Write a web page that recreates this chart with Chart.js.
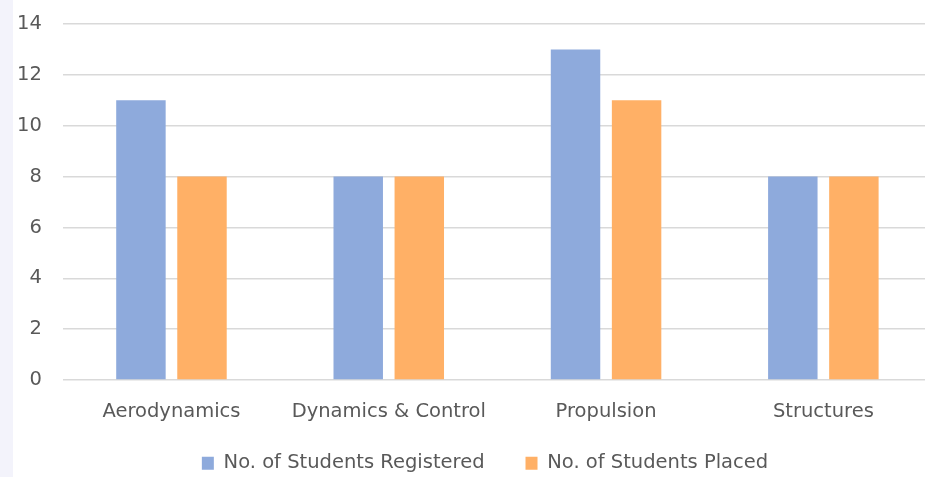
<!DOCTYPE html>
<html>
<head>
<meta charset="utf-8">
<script src="https://cdn.jsdelivr.net/npm/chart.js@4/dist/chart.umd.min.js"></script>
<style>
  html, body { margin: 0; padding: 0; background: #ffffff; overflow: hidden; }
  #frame { position: relative; width: 925px; height: 477px; overflow: hidden; }
  #strip { position: absolute; left: 0; top: 0; width: 13px; height: 477px; background: #f3f3fb; z-index: 0; }
  #wrap { position: absolute; left: 0; top: 0; width: 932px; height: 477px; z-index: 1; }
</style>
</head>
<body>
<div id="frame">
  <div id="strip"></div>
  <div id="wrap"><canvas id="chart"></canvas></div>
</div>
<script>
const categories = ["Aerodynamics", "Dynamics & Control", "Propulsion", "Structures"];
const registered = [11, 8, 13, 8];
const placed = [8, 8, 11, 8];
const seriesNames = ["No. of Students Registered", "No. of Students Placed"];
const yTicks = [0, 2, 4, 6, 8, 10, 12, 14];

const FONT = "'DejaVu Sans', sans-serif";
const TEXT_SIZE = 19.5;
Chart.defaults.font.family = FONT;
Chart.defaults.color = "#595959";

// trailing spaces widen the legend entries so they sit apart like spaced items
const legendGap = ["     ", "    "];

new Chart(document.getElementById("chart"), {
  type: "bar",
  data: {
    labels: categories,
    datasets: [
      { label: seriesNames[0], data: registered, backgroundColor: "#8eaadc", borderWidth: 0 },
      { label: seriesNames[1], data: placed, backgroundColor: "#ffb066", borderWidth: 0 }
    ]
  },
  options: {
    responsive: true,
    maintainAspectRatio: false,
    animation: false,
    datasets: { bar: { categoryPercentage: 0.562, barPercentage: 0.81 } },
    layout: { padding: { left: 17, right: 0, top: 24, bottom: -6 } },
    plugins: {
      tooltip: { enabled: false },
      legend: {
        position: "bottom",
        fullSize: false,
        labels: {
          boxWidth: 12,
          boxHeight: 13,
          padding: 10,
          font: { size: TEXT_SIZE, family: FONT },
          color: "#595959",
          generateLabels: chart => {
            const items = Chart.defaults.plugins.legend.labels.generateLabels(chart);
            items.forEach((it, i) => { it.text = it.text + legendGap[i]; });
            return items;
          }
        }
      }
    },
    scales: {
      x: {
        grid: { display: false, drawTicks: false },
        border: { display: false },
        ticks: { font: { size: TEXT_SIZE, family: FONT }, color: "#595959", padding: 20 }
      },
      y: {
        min: yTicks[0],
        max: yTicks[yTicks.length - 1],
        afterBuildTicks: axis => { axis.ticks = yTicks.map(v => ({ value: v })); },
        grid: { color: "#d9d9d9", lineWidth: 1.5, drawTicks: true, tickLength: 21, tickColor: "rgba(0,0,0,0)" },
        border: { display: false },
        ticks: { font: { size: TEXT_SIZE, family: FONT }, color: "#595959", padding: 0 }
      }
    }
  }
});
</script>
</body>
</html>
